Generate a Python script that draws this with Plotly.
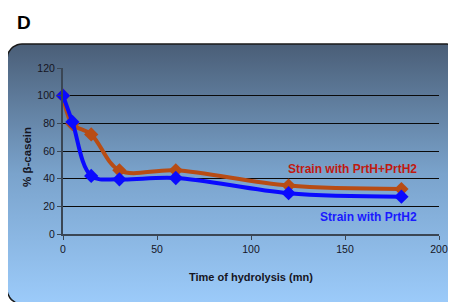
import math
import plotly.graph_objects as go

time_mn = [0, 5, 15, 30, 60, 120, 180]
prth_prth2 = [100, 79.5, 72, 46, 46, 35, 32.5]
prth2 = [100, 81, 42, 39.5, 40.5, 29.5, 27]

x_ticks = [0, 50, 100, 150, 200]
y_ticks = [0, 20, 40, 60, 80, 100, 120]

# The page body has an 8px margin; the figure is sized to fill the rest of the window.
OFF = 8
WIN_W, WIN_H = 456, 302
W, H = WIN_W - OFF, WIN_H - OFF

def fx(X):  # window pixel x -> background-axis x
    return X - OFF

def fy(Y):  # window pixel y (from top) -> background-axis y (upward, range [0, H])
    return H - (Y - OFF)

# rounded panel outline
x0, x1, ytop, ybot, r = fx(7), fx(462), fy(44), fy(304), 15
px, py = [], []
def arc(cx, cy, a0, a1, n=10):
    for i in range(n + 1):
        a = math.radians(a0 + (a1 - a0) * i / n)
        px.append(cx + r * math.cos(a)); py.append(cy + r * math.sin(a))
arc(x0 + r, ytop - r, 180, 90)
arc(x1 - r, ytop - r, 90, 0)
arc(x1 - r, ybot + r, 0, -90)
arc(x0 + r, ybot + r, 270, 180)
px.append(px[0]); py.append(py[0])

fig = go.Figure()
fig.add_trace(go.Scatter(
    x=px, y=py, mode="lines", fill="toself",
    line=dict(color="#1a1a1a", width=1.5),
    fillgradient=dict(type="vertical",
                      colorscale=[[0, "#9ccbfa"], [0.5, "#7aa3cc"], [1, "#4a5e77"]]),
    hoverinfo="skip", showlegend=False, xaxis="x", yaxis="y"))

fig.add_trace(go.Scatter(
    x=time_mn, y=prth_prth2, mode="lines+markers",
    line=dict(color="#b84c14", width=4, shape="spline", smoothing=1),
    marker=dict(symbol="diamond", size=11, color="#b84c14"),
    showlegend=False, xaxis="x2", yaxis="y2", cliponaxis=False))
fig.add_trace(go.Scatter(
    x=time_mn, y=prth2, mode="lines+markers",
    line=dict(color="#0a0aff", width=4, shape="spline", smoothing=1),
    marker=dict(symbol="diamond", size=11, color="#0a0aff"),
    showlegend=False, xaxis="x2", yaxis="y2", cliponaxis=False))

font = "Arial, Liberation Sans, sans-serif"
fig.update_layout(
    width=W, height=H, showlegend=False,
    margin=dict(l=0, r=0, t=0, b=0, pad=0),
    paper_bgcolor="white", plot_bgcolor="rgba(0,0,0,0)",
    font=dict(family=font, size=10.5, color="#15151f"),
    xaxis=dict(domain=[0, 1], range=[0, W], visible=False, fixedrange=True, automargin=False),
    yaxis=dict(domain=[0, 1], range=[0, H], visible=False, fixedrange=True, automargin=False),
    xaxis2=dict(domain=[fx(63) / W, fx(439) / W], range=[0, 200], anchor="y2",
                automargin=False, tickvals=x_ticks, showgrid=False, zeroline=False,
                showline=True, linecolor="#3a4654", linewidth=2,
                ticks="outside", ticklen=4, tickcolor="#3a4654"),
    yaxis2=dict(domain=[fy(234) / H, fy(68) / H], range=[0, 120],
                anchor="x2", automargin=False,
                tickvals=y_ticks, showgrid=True, gridcolor="#0a0a0a", gridwidth=1,
                zeroline=False, showline=True, linecolor="#3a4654", linewidth=2,
                ticks="outside", ticklen=4, tickcolor="#3a4654"),
    annotations=[
        dict(text="<b>D</b>", x=fx(15), y=fy(22), xref="x", yref="y", showarrow=False,
             xanchor="left", yanchor="middle", font=dict(size=19, color="black")),
        dict(text="<b>% β-casein</b>", x=fx(27), y=fy(157), xref="x", yref="y",
             showarrow=False, textangle=-90, font=dict(size=11.5, color="#15151f")),
        dict(text="<b>Time of hydrolysis (mn)</b>", x=fx(251), y=fy(277), xref="x", yref="y",
             showarrow=False, font=dict(size=11, color="#15151f")),
        dict(text="<b>Strain with PrtH+PrtH2</b>", x=fx(352), y=fy(169), xref="x", yref="y",
             showarrow=False, font=dict(size=12, color="#c01a10")),
        dict(text="<b>Strain with PrtH2</b>", x=fx(368), y=fy(217), xref="x", yref="y",
             showarrow=False, font=dict(size=12, color="#1a1aff")),
    ],
)
fig.write_html("out.html")
